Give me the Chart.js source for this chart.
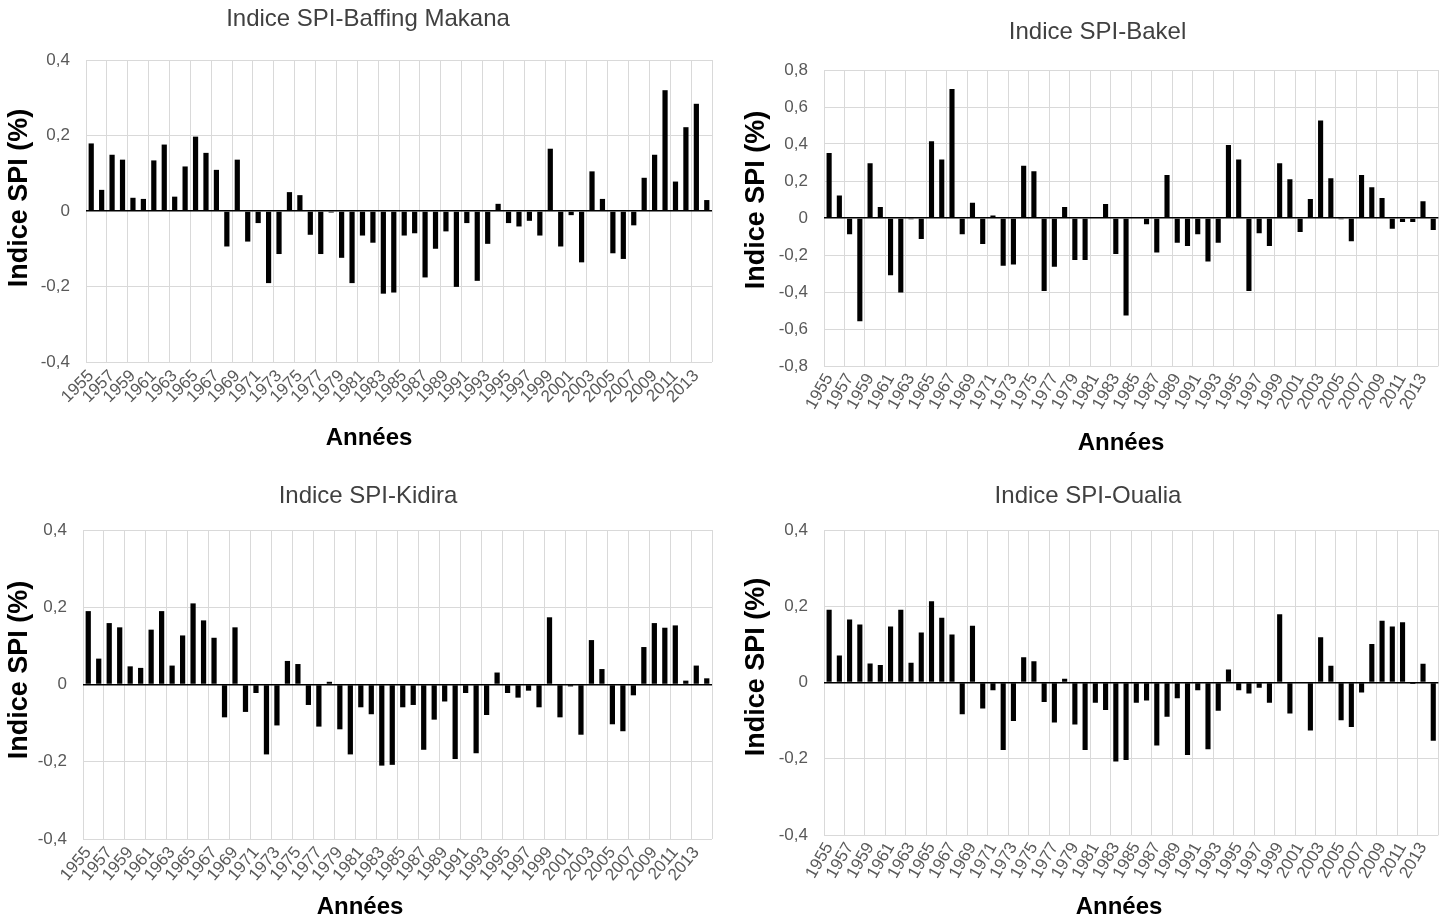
<!DOCTYPE html>
<html><head><meta charset="utf-8">
<script src="https://cdn.jsdelivr.net/npm/chart.js@4.4.1/dist/chart.umd.min.js"></script>
<style>
html,body{margin:0;padding:0;background:#fff;width:1455px;height:922px;overflow:hidden}
.p{position:absolute}
canvas{display:block}
</style></head><body>
<div class="p" style="left:0;top:0;width:736px;height:460px"><canvas id="c1" width="736" height="460"></canvas></div>
<div class="p" style="left:740px;top:0;width:715px;height:465px"><canvas id="c2" width="715" height="465"></canvas></div>
<div class="p" style="left:0;top:470px;width:736px;height:452px"><canvas id="c3" width="736" height="452"></canvas></div>
<div class="p" style="left:729px;top:470px;width:726px;height:452px"><canvas id="c4" width="726" height="452"></canvas></div>
<script>
const years = [1955,1956,1957,1958,1959,1960,1961,1962,1963,1964,1965,1966,1967,1968,1969,1970,1971,1972,1973,1974,
  1975,1976,1977,1978,1979,1980,1981,1982,1983,1984,1985,1986,1987,1988,1989,1990,1991,1992,1993,1994,
  1995,1996,1997,1998,1999,2000,2001,2002,2003,2004,2005,2006,2007,2008,2009,2010,2011,2012,2013,2014];

const baffingMakana = [0.179,0.056,0.149,0.136,0.035,0.032,0.134,0.176,0.038,0.118,
  0.197,0.154,0.109,-0.094,0.136,-0.081,-0.032,-0.191,-0.114,0.050,
  0.042,-0.063,-0.114,-0.004,-0.124,-0.191,-0.065,-0.084,-0.219,-0.216,
  -0.065,-0.059,-0.176,-0.100,-0.054,-0.201,-0.032,-0.185,-0.087,0.019,
  -0.032,-0.041,-0.026,-0.065,0.165,-0.094,-0.011,-0.136,0.105,0.032,
  -0.112,-0.127,-0.038,0.088,0.149,0.320,0.078,0.222,0.284,0.029];

const bakel = [0.352,0.121,-0.088,-0.558,0.296,0.060,-0.309,-0.403,-0.007,-0.114,
  0.415,0.316,0.697,-0.088,0.083,-0.141,0.014,-0.258,-0.251,0.283,
  0.253,-0.395,-0.264,0.060,-0.227,-0.227,0,0.076,-0.195,-0.527,
  0,-0.034,-0.186,0.233,-0.134,-0.152,-0.088,-0.235,-0.134,0.395,
  0.316,-0.395,-0.083,-0.152,0.296,0.209,-0.076,0.103,0.527,0.215,
  -0.007,-0.126,0.233,0.166,0.108,-0.058,-0.022,-0.022,0.090,-0.065];

const kidira = [0.190,0.067,0.159,0.148,0.047,0.043,0.142,0.190,0.049,0.127,
  0.210,0.166,0.121,-0.085,0.148,-0.071,-0.022,-0.181,-0.106,0.061,
  0.053,-0.053,-0.109,0.007,-0.116,-0.181,-0.059,-0.077,-0.210,-0.208,
  -0.059,-0.053,-0.169,-0.091,-0.044,-0.193,-0.022,-0.178,-0.079,0.031,
  -0.022,-0.034,-0.016,-0.059,0.174,-0.085,-0.005,-0.130,0.115,0.040,
  -0.103,-0.121,-0.028,0.097,0.159,0.147,0.153,0.010,0.049,0.016];

const oualia = [0.191,0.071,0.165,0.152,0.050,0.046,0.147,0.191,0.052,0.131,
  0.213,0.170,0.126,-0.083,0.149,-0.068,-0.020,-0.177,-0.101,0.066,
  0.056,-0.051,-0.105,0.010,-0.110,-0.177,-0.053,-0.072,-0.207,-0.203,
  -0.053,-0.047,-0.165,-0.090,-0.041,-0.190,-0.020,-0.175,-0.074,0.034,
  -0.020,-0.029,-0.014,-0.053,0.179,-0.081,0,-0.126,0.119,0.044,
  -0.099,-0.117,-0.026,0.101,0.162,0.147,0.158,-0.004,0.049,-0.153];

const titles = ['Indice SPI-Baffing Makana','Indice SPI-Bakel','Indice SPI-Kidira','Indice SPI-Oualia'];
const xAxisTitle = 'Années';
const yAxisTitle = 'Indice SPI (%)';

const FONT = "'Liberation Sans', Arial, sans-serif";
const TICK_COLOR = '#595959';
const GRID_COLOR = '#d9d9d9';

const axisTitles = {
  id: 'axisTitles',
  afterDraw(chart, args, opts) {
    const ctx = chart.ctx;
    (opts.items || []).forEach(it => {
      ctx.save();
      ctx.translate(it.x, it.y);
      ctx.rotate(it.rotation || 0);
      ctx.font = it.font;
      ctx.fillStyle = it.color || '#000';
      ctx.textAlign = 'center';
      ctx.textBaseline = 'middle';
      ctx.fillText(it.text, 0, 0);
      ctx.restore();
    });
  }
};

function fmt(v) {
  if (Math.abs(v) < 1e-9) return '0';
  return v.toFixed(1).replace('.', ',');
}

function makeChart(id, title, values, cfg) {
  new Chart(document.getElementById(id), {
    type: 'bar',
    data: {
      labels: years.map(String),
      datasets: [{ data: values, backgroundColor: '#000', borderWidth: 0,
        barPercentage: 0.5, categoryPercentage: 1.0 }]
    },
    plugins: [axisTitles],
    options: {
      responsive: false,
      animation: false,
      devicePixelRatio: 1,
      layout: { padding: { left: cfg.padLeft, right: cfg.padRight, top: 0, bottom: 0 } },
      plugins: {
        legend: { display: false },
        tooltip: { enabled: false },
        title: {
          display: true, text: title, color: '#404040',
          font: { family: FONT, size: 24, weight: 'normal', lineHeight: 1.2 },
          padding: { top: cfg.titleTop, bottom: cfg.titleBottom }
        },
        axisTitles: {
          items: [
            { text: xAxisTitle, x: cfg.xt[0], y: cfg.xt[1], font: "bold 24px " + FONT },
            { text: yAxisTitle, x: cfg.yt[0], y: cfg.yt[1], rotation: -Math.PI / 2, font: "bold 27px " + FONT }
          ]
        }
      },
      scales: {
        x: {
          offset: true,
          afterFit: s => { s.height = cfg.xHeight; },
          border: { display: false },
          grid: {
            offset: true, drawTicks: false,
            color: c => (c.type !== 'tick' || c.index % 2 === 0) ? GRID_COLOR : 'rgba(0,0,0,0)',
            lineWidth: 1
          },
          ticks: {
            autoSkip: false, minRotation: cfg.rot, maxRotation: cfg.rot, padding: 4,
            color: TICK_COLOR, font: { family: FONT, size: 17 },
            callback: function (v, i) { return i % 2 === 0 ? this.getLabelForValue(v) : ''; }
          }
        },
        y: {
          min: cfg.yMin, max: cfg.yMax,
          afterFit: s => { s.width = cfg.yWidth; },
          border: { display: false },
          grid: {
            drawTicks: false,
            color: c => (c.tick && Math.abs(c.tick.value) < 1e-9) ? '#000' : GRID_COLOR,
            lineWidth: c => (c.tick && Math.abs(c.tick.value) < 1e-9) ? 1.5 : 1
          },
          ticks: {
            stepSize: 0.2, padding: 16, color: TICK_COLOR,
            font: { family: FONT, size: 17 }, callback: v => fmt(v)
          }
        }
      }
    }
  });
}

makeChart('c1', titles[0], baffingMakana, {
  padLeft: 24, padRight: 24, titleTop: 4.6, titleBottom: 26.6, xHeight: 98, yWidth: 62,
  yMin: -0.4, yMax: 0.4, rot: 45, xt: [369, 438], yt: [20, 198]
});
makeChart('c2', titles[1], bakel, {
  padLeft: 12, padRight: 12, titleTop: 17.6, titleBottom: 23.6, xHeight: 99, yWidth: 72,
  yMin: -0.8, yMax: 0.8, rot: 60, xt: [381, 443], yt: [17, 200]
});
makeChart('c3', titles[2], kidira, {
  padLeft: 24, padRight: 24, titleTop: 11.6, titleBottom: 19.6, xHeight: 83, yWidth: 59,
  yMin: -0.4, yMax: 0.4, rot: 50, xt: [360, 437], yt: [20, 200]
});
makeChart('c4', titles[3], oualia, {
  padLeft: 0, padRight: 8, titleTop: 11.6, titleBottom: 19.6, xHeight: 87, yWidth: 95,
  yMin: -0.4, yMax: 0.4, rot: 60, xt: [390, 437], yt: [28, 197]
});
</script>
</body></html>
